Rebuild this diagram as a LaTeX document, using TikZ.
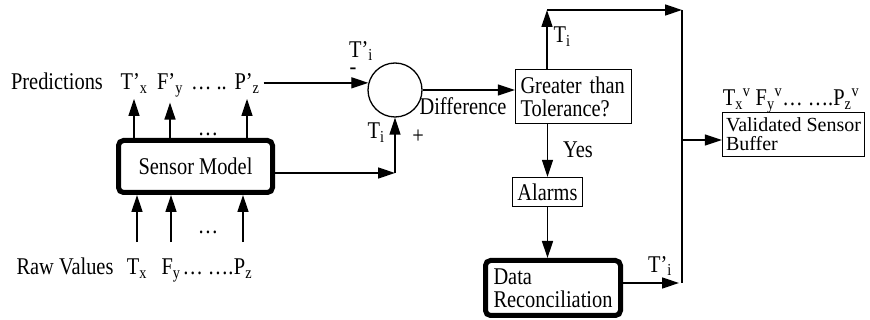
\documentclass[tikz,border=0pt]{standalone}
\usepackage{fontspec}
\setmainfont[FakeStretch=0.85]{Liberation Serif}
\newfontfamily\vfont{Liberation Serif}
\usetikzlibrary{arrows.meta,calc}
\newcommand{\fs}{\fontsize{24}{23}\selectfont}
\newcommand{\fv}{\vfont\fontsize{20}{19}\selectfont}
\begin{document}
\begin{tikzpicture}[x=1pt,y=-1pt,
  txt/.style={font=\fs, inner sep=0pt},
  thinbox/.style={draw, line width=1.3pt, font=\fs, align=left},
  thickbox/.style={draw, line width=5pt, rounded corners=5pt, font=\fs},
  ln/.style={line width=1.4pt},
  arr/.style={line width=1.4pt, -{Triangle[length=17pt,width=11pt]}}]
\useasboundingbox (0,0) rectangle (870,320);
\fill[white] (0,0) rectangle (870,320);

% labels left
\node[txt, anchor=base] (pred) at (57,90) {Predictions};
\node[txt, anchor=base] (px) at (134,90) {T’\textsubscript{x}};
\node[txt, anchor=base] (py) at (170,90) {F’\textsubscript{y}};
\node[txt, anchor=base] (pdots) at (209,90) {… ..};
\node[txt, anchor=base] (pz) at (247,90) {P’\textsubscript{z}};

\node[txt, anchor=base] (raw) at (65,275) {Raw Values};
\node[txt, anchor=base] (rx) at (137,275) {T\textsubscript{x}};
\node[txt, anchor=base] (ry) at (171,275) {F\textsubscript{y}};
\node[txt, anchor=base] (rdots) at (208,275) {… ….};
\node[txt, anchor=base] (rz) at (243,275) {P\textsubscript{z}};

% sensor model
\node[thickbox, minimum width=154pt, minimum height=52pt] (sm) at (195.5,166.5) {Sensor Model};
\node[txt, anchor=base] (d1) at (208,136) {…};
\node[txt, anchor=base] (d2) at (208,234) {…};

\draw[arr, shorten >=5pt] (sm.north -| px) -- (px.south);
\draw[arr, shorten >=5pt] (sm.north -| py) -- (py.south);
\draw[arr, shorten >=5pt] (sm.north -| pz) -- (pz.south);
\draw[arr, shorten <=17pt] (rx.north) -- (rx.north |- sm.south);
\draw[arr, shorten <=17pt] (ry.north) -- (ry.north |- sm.south);
\draw[arr, shorten <=17pt] (rz.north) -- (rz.north |- sm.south);

% comparator
\node[circle, draw, line width=1.3pt, minimum size=54pt, inner sep=0pt] (circ) at (395,90) {};
\draw[arr, shorten <=4pt] (pz.east |- circ.165) -- (circ.165);
\node[txt] (tpi1) at (361,51) {T’\textsubscript{i}};
\node[txt] (minus) at (353,71) {-};
\coordinate (j1) at (395,173);
\draw[arr] (sm.east |- j1) -- (j1);
\draw[arr] (j1) -- (circ.south);
\node[txt] (ti1) at (376,133) {T\textsubscript{i}};
\node[txt] (plus) at (418,137) {+};

% tolerance check
\node[thinbox, minimum width=116pt, minimum height=54pt, text width=106pt, inner xsep=5pt] (gt) at (573.5,96.5) {Greater than\\Tolerance?};
\draw[arr] (circ.east) -- (circ.east -| gt.west);
\node[txt, anchor=base] (diff) at (463,115) {Difference};

\coordinate (tl) at (547,10);
\coordinate (tr) at (682,10);
\coordinate (bot) at (682,283);
\coordinate (vj) at (682,140);
\draw[arr] (gt.north -| tl) -- (tl);
\draw[arr] (tl) -- (tr);
\draw[ln] (tr) -- (bot);
\node[txt] (ti2) at (562,37) {T\textsubscript{i}};

\node[thinbox, minimum width=70pt, minimum height=29pt, inner sep=2pt] (al) at (547.5,192) {Alarms};
\draw[arr] (gt.south -| al) -- (al.north);
\node[txt] (yes) at (578,150) {Yes};

\node[thickbox, minimum width=135pt, minimum height=55pt, align=left, text width=119pt, inner xsep=8pt] (dr) at (553,288) {Data\\Reconciliation};
\draw[arr] (al.south) -- (al.south |- dr.north);
\draw[arr, shorten >=3pt] (dr.east |- bot) -- (bot);
\node[txt] (tpi2) at (660,266) {T’\textsubscript{i}};

% validated buffer
\node[draw, line width=1.3pt, font=\fv, align=left, minimum width=142pt, minimum height=44pt, inner xsep=2pt, inner ysep=3pt] (vsb) at (793.5,134.5) {Validated Sensor\\Buffer};
\draw[arr] (vj) -- (vj -| vsb.west);
\node[txt, anchor=base] (vlab) at (791,106) {T\textsubscript{x}\textsuperscript{v} F\textsubscript{y}\textsuperscript{v}… ….P\textsubscript{z}\textsuperscript{v}};
\end{tikzpicture}
\end{document}
